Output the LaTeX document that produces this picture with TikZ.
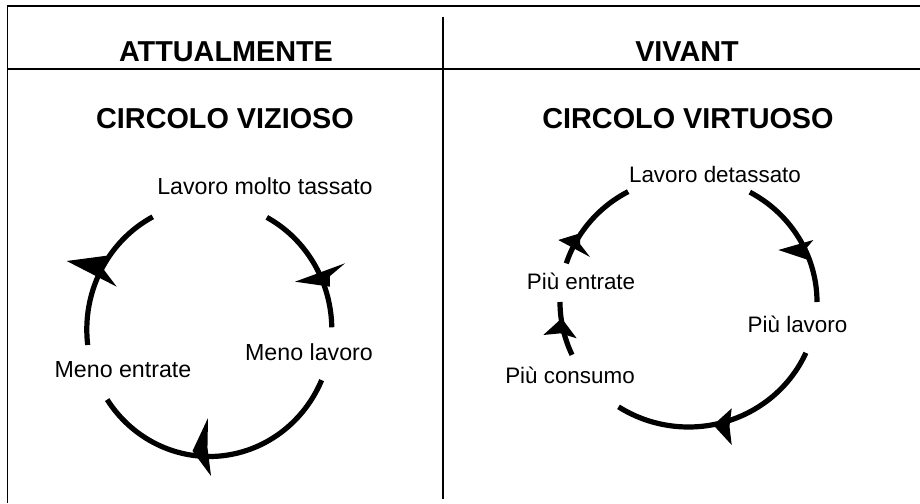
\documentclass[tikz,border=0pt]{standalone}
\usepackage{fontspec}
\setmainfont{Liberation Sans}
\usetikzlibrary{calc}
\newcommand\arhead[7][0.18]{%
  \coordinate (ht) at (#2,#3);
  \coordinate (ha) at (#4,#5);
  \coordinate (hb) at (#6,#7);
  \fill (ht) -- (ha) -- ($(ha)!0.5!(hb)!#1!(ht)$) -- (hb) -- cycle;}
\begin{document}
\begin{tikzpicture}[x=1pt,y=-1pt,
  frame/.style={line width=1.6pt},
  arcline/.style={line width=5.2pt},
  hdr/.style={font=\fontsize{28.8}{32}\selectfont\bfseries, anchor=base, inner sep=0pt},
  lbl/.style={font=\fontsize{23.2}{27}\selectfont, anchor=base, inner sep=0pt},
  lblr/.style={font=\fontsize{22.4}{26}\selectfont, anchor=base, inner sep=0pt}]
\useasboundingbox (0,0) rectangle (920,503);

% frame
\draw[frame] (920,6) -- (7.5,6) -- (7.5,503);
\draw[frame, line width=2pt] (7.5,68.5) -- (920,68.5);
\draw[line width=1.3pt] (443,17) -- (443,499);

% headers
\node[hdr] (h1) at (226,62) {ATTUALMENTE};
\node[hdr] (h2) at (687,62) {VIVANT};
\node[hdr] (t1) at (225,128.3) {CIRCOLO VIZIOSO};
\node[hdr] (t2) at (688,128.3) {CIRCOLO VIRTUOSO};

% labels left
\node[lbl] (a1) at (265,194) {Lavoro molto tassato};
\node[lbl] (a2) at (309,360) {Meno lavoro};
\node[lbl] (a3) at (123,377) {Meno entrate};
% labels right
\node[lblr] (b1) at (715,182) {Lavoro detassato};
\node[lblr] (b2) at (797.5,332) {Più lavoro};
\node[lblr] (b3) at (581,289) {Più entrate};
\node[lblr] (b4) at (570,383) {Più consumo};

% left circle arcs
\draw[arcline] plot[domain=62:1, samples=50] ({209.3+122.5*cos(\x)}, {329.5-127*sin(\x)});
\draw[arcline] plot[domain=-23.5:-146.5, samples=80] ({209.3+122.5*cos(\x)}, {329.5-127*sin(\x)});
\draw[arcline] plot[domain=187:117.5, samples=50] ({209.3+122.5*cos(\x)}, {329.5-127*sin(\x)});

% right circle arcs
\draw[arcline] plot[domain=61.5:0, samples=50] ({688.5+128.5*cos(\x)}, {302-125*sin(\x)});
\draw[arcline] plot[domain=-24:-123, samples=80] ({688.5+128.5*cos(\x)}, {302-125*sin(\x)});
\draw[arcline] plot[domain=205:180, samples=30] ({688.5+128.5*cos(\x)}, {302-125*sin(\x)});
\draw[arcline] plot[domain=162:118, samples=40] ({688.5+128.5*cos(\x)}, {302-125*sin(\x)});

% arrowheads left
\arhead{66.7}{261}{106.7}{255.7}{116.7}{286.7}
\arhead{295}{281.7}{345}{263.3}{330}{286.7}
\arhead[0.12]{192.5}{451}{208}{418}{211}{476}
% arrowheads right
\arhead{558.3}{240}{580}{233.3}{590}{257}
\arhead{561.7}{318.3}{543.3}{335}{576.7}{338.3}
\arhead{778.3}{250}{813.3}{240}{808.3}{260}
\arhead[0.12]{713.3}{425}{731.7}{408.3}{731.7}{445}
\end{tikzpicture}
\end{document}
